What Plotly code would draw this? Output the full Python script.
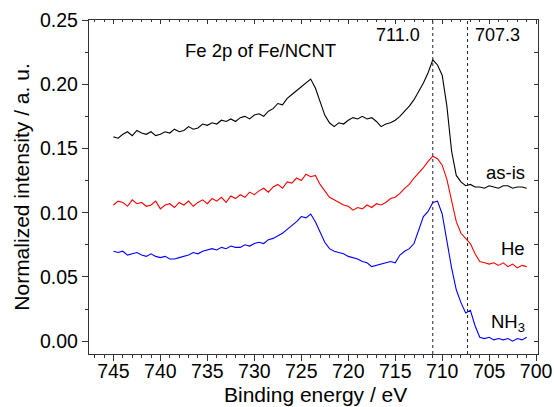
import plotly.graph_objects as go

energy = [
    745.0, 744.5, 744.0, 743.5, 743.0, 742.5, 742.0, 741.5, 741.0, 740.5,
    740.0, 739.5, 739.0, 738.5, 738.0, 737.5, 737.0, 736.5, 736.0, 735.5,
    735.0, 734.5, 734.0, 733.5, 733.0, 732.5, 732.0, 731.5, 731.0, 730.5,
    730.0, 729.5, 729.0, 728.5, 728.0, 727.5, 727.0, 726.5, 726.0, 725.5,
    725.0, 724.5, 724.0, 723.5, 723.0, 722.5, 722.0, 721.5, 721.0, 720.5,
    720.0, 719.5, 719.0, 718.5, 718.0, 717.5, 717.0, 716.5, 716.0, 715.5,
    715.0, 714.5, 714.0, 713.5, 713.0, 712.5, 712.0, 711.5, 711.0, 710.5,
    710.0, 709.5, 709.0, 708.5, 708.0, 707.5, 707.0, 706.5, 706.0, 705.5,
    705.0, 704.5, 704.0, 703.5, 703.0, 702.5, 702.0, 701.5, 701.0,
]

as_is = [
    0.159, 0.158, 0.161, 0.163, 0.160, 0.164, 0.162, 0.161, 0.163, 0.160,
    0.161, 0.163, 0.162, 0.165, 0.163, 0.164, 0.167, 0.165, 0.166, 0.169,
    0.168, 0.170, 0.169, 0.172, 0.171, 0.173, 0.171, 0.174, 0.175, 0.173,
    0.176, 0.177, 0.175, 0.179, 0.181, 0.185, 0.184, 0.189, 0.192, 0.195,
    0.198, 0.201, 0.204, 0.197, 0.186, 0.176, 0.170, 0.167, 0.170, 0.169,
    0.172, 0.174, 0.173, 0.175, 0.173, 0.174, 0.171, 0.167, 0.169, 0.170,
    0.172, 0.175, 0.179, 0.183, 0.188, 0.194, 0.201, 0.209, 0.219, 0.215,
    0.207, 0.183, 0.148, 0.129, 0.124, 0.121, 0.122, 0.120, 0.120, 0.119,
    0.121, 0.120, 0.119, 0.121, 0.121, 0.119, 0.120, 0.120, 0.119,
]

he = [
    0.106, 0.109, 0.108, 0.105, 0.110, 0.107, 0.108, 0.105, 0.106, 0.109,
    0.103, 0.106, 0.107, 0.104, 0.108, 0.106, 0.109, 0.105, 0.108, 0.110,
    0.107, 0.111, 0.109, 0.112, 0.108, 0.113, 0.111, 0.114, 0.112, 0.116,
    0.114, 0.117, 0.119, 0.116, 0.120, 0.122, 0.119, 0.124, 0.123, 0.127,
    0.125, 0.130, 0.128, 0.129, 0.122, 0.117, 0.112, 0.110, 0.108, 0.106,
    0.105, 0.102, 0.104, 0.103, 0.106, 0.104, 0.107, 0.106, 0.108, 0.111,
    0.112, 0.115, 0.119, 0.122, 0.127, 0.131, 0.135, 0.140, 0.144, 0.142,
    0.137, 0.126, 0.110, 0.093, 0.084, 0.080, 0.076, 0.068, 0.062, 0.061,
    0.060, 0.061, 0.059, 0.061, 0.058, 0.060, 0.057, 0.059, 0.058,
]

nh3 = [
    0.070, 0.069, 0.070, 0.067, 0.068, 0.069, 0.067, 0.066, 0.068, 0.066,
    0.065, 0.066, 0.064, 0.064, 0.065, 0.066, 0.067, 0.069, 0.068, 0.070,
    0.071, 0.072, 0.071, 0.073, 0.072, 0.074, 0.073, 0.073, 0.075, 0.074,
    0.076, 0.077, 0.076, 0.079, 0.080, 0.082, 0.084, 0.087, 0.090, 0.093,
    0.097, 0.096, 0.099, 0.093, 0.085, 0.077, 0.072, 0.070, 0.069, 0.068,
    0.066, 0.065, 0.064, 0.062, 0.061, 0.058, 0.059, 0.060, 0.061, 0.062,
    0.061, 0.067, 0.070, 0.072, 0.076, 0.086, 0.097, 0.101, 0.108, 0.109,
    0.099, 0.078, 0.057, 0.040, 0.030, 0.022, 0.024, 0.012, 0.003, 0.002,
    0.003, 0.001, 0.002, 0.001, 0.002, 0.000, 0.002, 0.001, 0.003,
]

series_names = ["as-is", "He", "NH<sub>3</sub>"]
series_colors = ["#000000", "#ff0000", "#0000ff"]
series_label_y = [0.1315, 0.0725, 0.0143]
reference_lines = [711.0, 707.3]
reference_labels = ["711.0", "707.3"]

FONT = "Liberation Sans, Arial, sans-serif"
x_range = [747.6, 699.8]
y_range = [-0.01, 0.25]

fig = go.Figure()
for name, ys, col in zip(series_names, [as_is, he, nh3], series_colors):
    fig.add_trace(go.Scatter(x=energy, y=ys, mode="lines", name=name,
                             line=dict(color=col, width=1.1), showlegend=False))

# dummy trace to activate mirrored inner-tick axes
fig.add_trace(go.Scatter(x=[None], y=[None], xaxis="x2", yaxis="y2",
                         showlegend=False, hoverinfo="skip"))

for xv in reference_lines:
    fig.add_shape(type="line", x0=xv, x1=xv, y0=0, y1=1, xref="x", yref="paper",
                  line=dict(color="#222222", width=1, dash="dot"))

fig.add_annotation(x=reference_lines[0], y=0.2385, xref="x", yref="y",
                   text=reference_labels[0], showarrow=False, xanchor="right",
                   xshift=-11, font=dict(family=FONT, size=18, color="black"))
fig.add_annotation(x=reference_lines[1], y=0.2385, xref="x", yref="y",
                   text=reference_labels[1], showarrow=False, xanchor="left",
                   xshift=5, font=dict(family=FONT, size=18, color="black"))
fig.add_annotation(x=0.383, y=0.946, xref="paper", yref="paper",
                   text="Fe 2p of Fe/NCNT", showarrow=False,
                   font=dict(family=FONT, size=18.5, color="black"))

for name, ly in zip(series_names, series_label_y):
    fig.add_annotation(x=701.0, y=ly, xref="x", yref="y", text=name,
                       showarrow=False, xanchor="right",
                       font=dict(family=FONT, size=18.5, color="black"))

# x-axis title placed as a paper annotation for exact vertical position
fig.add_annotation(x=0.5, y=-0.1198, xref="paper", yref="paper",
                   text="Binding energy / eV", showarrow=False,
                   xanchor="center", yanchor="middle", xshift=2,
                   font=dict(family=FONT, size=21, color="black"))

axis_common = dict(showgrid=False, zeroline=False, linecolor="#333333",
                   linewidth=1.3, tickcolor="#333333", tickwidth=1,
                   automargin=False)

fig.update_layout(
    width=554, height=407,
    margin=dict(l=89, r=16, t=20, b=53),
    paper_bgcolor="white", plot_bgcolor="white",
    font=dict(family=FONT, size=19, color="black"),
    xaxis=dict(range=x_range, tick0=700, dtick=5, ticks="outside", ticklen=6,
               minor=dict(dtick=1, ticks="outside", ticklen=3, tickcolor="#333333"),
               showline=True, mirror=True, ticklabelstandoff=-7,
               tickfont=dict(size=19.5), **axis_common),
    yaxis=dict(range=y_range, tick0=0, dtick=0.05, tickformat=".2f",
               ticks="outside", ticklen=6,
               minor=dict(dtick=0.025, ticks="outside", ticklen=3, tickcolor="#333333"),
               showline=True, mirror=True,
               title=dict(text="Normalized intensity / a. u.", font=dict(size=21), standoff=4),
               tickfont=dict(size=19.5), **axis_common),
    xaxis2=dict(range=x_range, overlaying="x", side="top", tick0=700, dtick=5,
                ticks="inside", ticklen=4, showticklabels=False,
                minor=dict(dtick=1, ticks="inside", ticklen=2, tickcolor="#333333"),
                showline=False, **axis_common),
    yaxis2=dict(range=y_range, overlaying="y", side="right", tick0=0, dtick=0.05,
                ticks="inside", ticklen=4, showticklabels=False,
                minor=dict(dtick=0.025, ticks="inside", ticklen=4, tickcolor="#333333"),
                showline=False, **axis_common),
)

fig.write_html("out.html")
